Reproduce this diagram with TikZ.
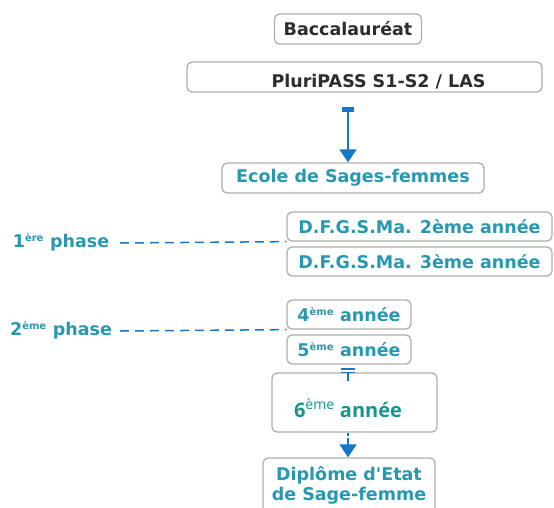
\documentclass[tikz,border=0pt]{standalone}
\usepackage{fontspec}
\setmainfont{DejaVu Sans}
\newfontfamily\sixfont{Open Sans}
\usetikzlibrary{arrows.meta}
\definecolor{tealtxt}{RGB}{38,152,178}
\definecolor{darktxt}{RGB}{45,45,45}
\definecolor{boxgray}{RGB}{170,178,170}
\definecolor{lineblue}{RGB}{22,118,200}
\definecolor{sixteal}{RGB}{20,150,140}
\tikzset{
  box/.style={draw=boxgray, line width=1.3pt, rounded corners=5pt, fill=white, inner sep=0pt},
  lbl/.style={font=\fontsize{17.5}{20}\selectfont\bfseries, text=tealtxt, inner sep=0pt},
  dlbl/.style={font=\fontsize{17.5}{20}\selectfont\bfseries, text=darktxt, inner sep=0pt},
  phaseline/.style={draw=lineblue, line width=1.5pt, dash pattern=on 9pt off 6pt},
  conn/.style={draw=lineblue, line width=1.5pt},
  tip/.style={-{Triangle[width=17pt,length=13pt]}}
}
\newcommand{\supx}[1]{\textsuperscript{\fontsize{10}{10}\selectfont #1}}
\begin{document}
\begin{tikzpicture}[x=1pt,y=-1pt]
\useasboundingbox (0,0) rectangle (554,507);
\begin{scope}
\clip (0,0) rectangle (554,507);
% boxes
\node[box, minimum width=147pt, minimum height=30pt, dlbl] (bac) at (348,29) {Baccalauréat};
\node[box, minimum width=355pt, minimum height=30pt] (pp) at (364.5,77) {};
\node[dlbl] (ppt) at (378.5,82) {PluriPASS S1-S2 / LAS};
\node[box, minimum width=262pt, minimum height=30pt, lbl] (ecole) at (353,178) {Ecole de Sages-femmes};
\node[box, minimum width=265pt, minimum height=29pt, lbl] (d2) at (419.5,226.5) {D.F.G.S.Ma. 2ème année};
\node[box, minimum width=265pt, minimum height=29pt, lbl] (d3) at (419.5,261.5) {D.F.G.S.Ma. 3ème année};
\node[box, minimum width=124pt, minimum height=29pt, lbl] (a4) at (349,314.5) {4\supx{ème} année};
\node[box, minimum width=124pt, minimum height=29pt, lbl] (a5) at (349,349.5) {5\supx{ème} année};
\node[box, minimum width=165pt, minimum height=59pt] (a6) at (354.5,402.5) {};
\node[font=\sixfont\fontsize{20}{24}\selectfont\bfseries, text=sixteal, inner sep=0pt] (a6t) at (348,408) {6\textsuperscript{\mdseries ème} année};
\node[box, minimum width=172pt, minimum height=60pt] (dip) at (349,488) {};
\node[lbl, align=center, font=\fontsize{17.5}{20}\selectfont\bfseries] (dipt) at (349,485) {Diplôme d\textquotesingle Etat\\de Sage-femme};
% phases
\node[lbl] (ph1) at (61,242) {1\supx{ère} phase};
\node[lbl] (ph2) at (61,330) {2\supx{ème} phase};
\coordinate (p1end) at (d2.south west);
\coordinate (p2end) at (a4.south west);
\draw[phaseline] (120,243) coordinate (p1start) -- (p1end);
\draw[phaseline] (120,331) coordinate (p2start) -- (p2end);
% connector 1
\node[fill=lineblue, minimum width=12pt, minimum height=5pt, inner sep=0pt] (bar1) at (348,109.5) {};
\draw[conn, tip] (bar1.south) -- (bar1.south |- ecole.north);
% connector 2
\coordinate (bar2) at (348,369);
\draw[lineblue, line width=1.3pt] (341,369) -- (355,369) (341,372.5) -- (355,372.5);
\draw[conn] (348,372.5) -- (348,381);
\draw[lineblue, line width=1.3pt, dash pattern=on 3pt off 2pt] (bar2 |- a6.south) -- (348,441);
\draw[conn, tip] (348,440) -- (bar2 |- dip.north);
\end{scope}
\end{tikzpicture}
\end{document}
